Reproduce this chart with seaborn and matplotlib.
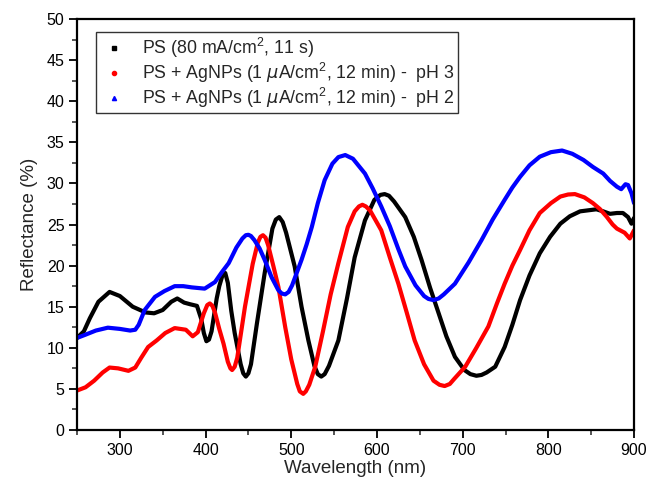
import matplotlib
matplotlib.use("Agg")
import matplotlib.pyplot as plt
from matplotlib.lines import Line2D
from matplotlib.ticker import MultipleLocator
import seaborn as sns
import pandas as pd

# ---- data ----
wl_ps = [250, 258, 265, 275, 288, 300, 315, 330, 340, 350, 360, 367, 375, 382, 390, 395, 398, 401, 404, 407,
         413, 416, 420, 423, 426, 430, 434, 441, 444, 447, 450, 453, 460, 469, 478, 482, 486, 490, 494, 504,
         512, 520, 527, 531, 535, 539, 544, 555, 565, 574, 586, 597, 604, 609, 614, 620, 633, 643, 652, 662,
         672, 681, 691, 702, 709, 716, 722, 728, 738, 749, 758, 767, 778, 790, 802, 814, 825, 837, 856, 864,
         872, 880, 887, 893, 897, 900]
r_ps = [11.2, 12.0, 13.6, 15.6, 16.8, 16.3, 15.0, 14.3, 14.2, 14.6, 15.6, 16.0, 15.5, 15.3, 15.1, 13.5, 11.8, 10.8, 11.0, 12.0,
        16.0, 17.5, 18.9, 19.1, 17.9, 14.5, 11.8, 8.0, 6.9, 6.5, 6.9, 8.0, 13.0, 19.1, 24.5, 25.6, 25.9, 25.3, 24.0, 19.9,
        15.0, 10.9, 7.8, 6.8, 6.5, 6.8, 7.8, 10.9, 16.0, 21.0, 25.5, 28.0, 28.6, 28.7, 28.5, 27.8, 25.9, 23.5, 20.7, 17.3,
        14.2, 11.4, 8.9, 7.3, 6.8, 6.6, 6.7, 7.0, 7.7, 10.1, 12.8, 15.8, 18.8, 21.5, 23.5, 25.1, 26.0, 26.6, 26.85, 26.6,
        26.3, 26.4, 26.4, 25.9, 25.1, 25.8]

wl_ph3 = [250, 260, 270, 280, 288, 298, 310, 318, 325, 333, 343, 353, 364, 377, 385, 391, 398, 402, 405, 408,
          411, 416, 421, 426, 429, 431, 434, 437, 446, 455, 461, 464, 467, 470, 473, 479, 485, 493, 500, 507,
          510, 514, 517, 521, 528, 537, 546, 555, 566, 574, 579, 583, 587, 592, 605, 615, 625, 635, 644, 655,
          666, 673, 679, 685, 690, 703, 716, 730, 740, 749, 758, 767, 778, 790, 803, 814, 823, 831, 842, 852,
          860, 868, 875, 880, 889, 895, 900]
r_ph3 = [4.8, 5.2, 6.0, 7.0, 7.6, 7.5, 7.2, 7.6, 8.8, 10.1, 10.9, 11.8, 12.4, 12.2, 11.4, 11.9, 14.2, 15.2, 15.4, 15.1,
         14.3, 12.3, 10.5, 8.3, 7.5, 7.3, 7.7, 8.8, 15.0, 20.2, 22.8, 23.5, 23.7, 23.4, 22.5, 20.0, 17.4, 12.5, 8.6, 5.6,
         4.7, 4.4, 4.7, 5.5, 7.7, 12.0, 16.5, 20.3, 24.7, 26.6, 27.2, 27.4, 27.2, 26.7, 24.3, 21.0, 17.8, 14.2, 10.9, 8.0,
         6.0, 5.5, 5.35, 5.6, 6.2, 7.7, 10.0, 12.6, 15.4, 17.8, 20.0, 21.9, 24.3, 26.4, 27.6, 28.4, 28.65, 28.7, 28.3, 27.6,
         26.9, 25.95, 25.0, 24.5, 24.0, 23.3, 24.3]

wl_ph2 = [250, 260, 272, 286, 300, 312, 318, 322, 329, 341, 352, 364, 374, 384, 399, 411, 419, 427, 436, 443,
          447, 450, 453, 457, 463, 469, 477, 485, 489, 493, 497, 501, 512, 518, 524, 531, 539, 548, 555, 563,
          572, 586, 595, 605, 615, 625, 633, 645, 655, 660, 666, 672, 678, 691, 707, 722, 735, 749, 758, 767,
          778, 790, 803, 816, 828, 841, 852, 864, 872, 880, 885, 890, 893, 897, 900]
r_ph2 = [11.2, 11.6, 12.1, 12.45, 12.3, 12.1, 12.2, 12.8, 14.6, 16.2, 16.9, 17.5, 17.5, 17.35, 17.2, 18.0, 19.2, 20.3, 22.2, 23.3,
         23.7, 23.75, 23.6, 23.1, 22.1, 20.7, 18.6, 17.0, 16.6, 16.5, 16.8, 17.6, 20.7, 22.6, 24.7, 27.6, 30.4, 32.4, 33.2, 33.45,
         33.0, 31.2, 29.4, 27.2, 24.8, 22.0, 19.9, 17.6, 16.3, 15.95, 15.8, 16.0, 16.5, 17.8, 20.4, 23.1, 25.6, 28.0, 29.5, 30.8,
         32.2, 33.25, 33.8, 34.0, 33.6, 32.85, 32.0, 31.2, 30.3, 29.6, 29.3, 29.9, 29.8, 28.8, 27.6]

labels = ["PS (80 mA/cm$^2$, 11 s)",
          "PS + AgNPs (1 $\\mu$A/cm$^2$, 12 min) -  pH 3",
          "PS + AgNPs (1 $\\mu$A/cm$^2$, 12 min) -  pH 2"]
colors = ["black", "red", "blue"]
legend_markers = ["s", "o", "^"]

x_ticks = [300, 400, 500, 600, 700, 800, 900]
y_ticks = [0, 5, 10, 15, 20, 25, 30, 35, 40, 45, 50]

# ---- figure ----
sns.set_theme(style="ticks")
plt.rcParams["font.family"] = ["Liberation Sans", "DejaVu Sans"]
plt.rcParams["mathtext.fontset"] = "custom"
plt.rcParams["mathtext.rm"] = "Liberation Sans"
plt.rcParams["mathtext.it"] = "DejaVu Sans:italic"

fig = plt.figure(figsize=(6.47, 4.87), dpi=100)
ax = fig.add_axes([0.119, 0.117, 0.861, 0.844])

series = [(wl_ps, r_ps), (wl_ph3, r_ph3), (wl_ph2, r_ph2)]
for (wl, r), lab, col in zip(series, labels, colors):
    df = pd.DataFrame({"wl": wl, "R": r})
    sns.lineplot(data=df, x="wl", y="R", ax=ax, color=col, linewidth=3.0,
                 legend=False, sort=False, solid_joinstyle="round", solid_capstyle="round")

ax.set_xlim(250, 900)
ax.set_ylim(0, 50)
ax.set_xticks(x_ticks)
ax.set_yticks(y_ticks)
ax.xaxis.set_minor_locator(MultipleLocator(50))
ax.yaxis.set_minor_locator(MultipleLocator(2.5))
ax.tick_params(axis="both", which="major", direction="out", length=6, width=1.3,
               labelsize=11.5, colors="black", pad=3)
ax.tick_params(axis="both", which="minor", direction="out", length=3.5, width=1.1)
for s in ax.spines.values():
    s.set_visible(True)
    s.set_linewidth(1.6)
    s.set_color("black")

ax.set_xlabel("Wavelength (nm)", fontsize=13.5, labelpad=2)
ax.set_ylabel("Reflectance (%)", fontsize=13.5, labelpad=6)

handles = [Line2D([], [], linestyle="none", marker=m, color=c, markersize=3)
           for m, c in zip(legend_markers, colors)]
leg = ax.legend(handles, labels, loc="upper left", bbox_to_anchor=(0.034, 0.968),
                borderaxespad=0, fancybox=False, frameon=True, fontsize=12.8,
                handlelength=1.6, handletextpad=0.8, borderpad=0.2, labelspacing=0.05)
leg.get_frame().set_edgecolor("black")
leg.get_frame().set_linewidth(1.0)

fig.savefig("out.png", dpi=100)
